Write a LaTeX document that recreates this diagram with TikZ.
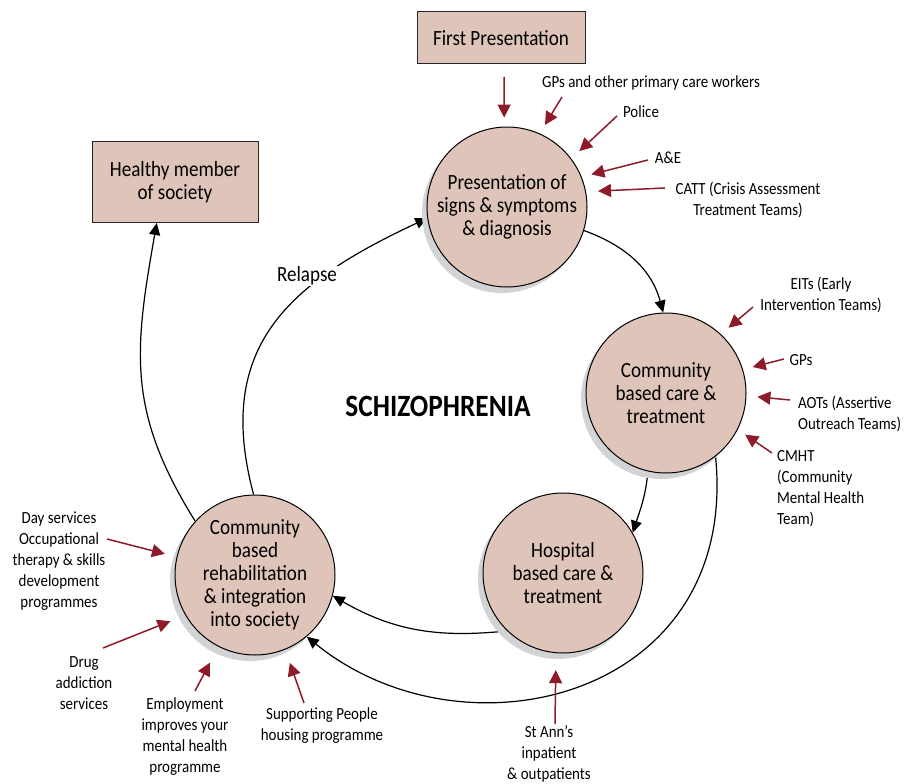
\documentclass[tikz,border=0pt]{standalone}
\usepackage{fontspec}
\setmainfont{Carlito}[FakeStretch=0.88]
\usetikzlibrary{arrows.meta,shadows,backgrounds}
\definecolor{piel}{HTML}{DEC4B9}
\definecolor{sombra}{HTML}{D1D3D4}
\definecolor{rojo}{HTML}{8E1B2A}
\newcommand{\grande}{\fontsize{21.7}{23}\selectfont}
\newcommand{\chica}{\fontsize{17}{21}\selectfont}
\begin{document}
\begin{tikzpicture}[x=1pt,y=-1pt,
  circ/.style={circle,draw,line width=1pt,fill=piel,minimum size=160pt,inner sep=0pt,
    align=center,font=\grande,
    drop shadow={shadow xshift=-5pt,shadow yshift=-6pt,fill=sombra,opacity=1}},
  caja/.style={rectangle,draw=black!85,line width=1pt,fill=piel,align=center,font=\grande},
  etiq/.style={align=center,font=\chica,inner sep=1pt},
  flecha/.style={line width=1.2pt,-{Triangle[length=12pt,width=11pt]}},
  roja/.style={draw=rojo,line width=1.5pt,-{Triangle[length=13pt,width=13pt]}}]
\useasboundingbox (0,0) rectangle (916,784);
%
% cajas y circulos
\node[caja,minimum width=168pt,minimum height=52pt] (primera) at (501,38) {First Presentation};
\node[caja,minimum width=166pt,minimum height=81pt] (sano) at (175,182) {Healthy member\\of society};
\node[circ] (c1) at (507,207) {Presentation of\\signs \& symptoms\\\& diagnosis};
\node[circ] (c2) at (666,393) {Community\\based care \&\\treatment};
\node[circ] (c3) at (563,573) {Hospital\\based care \&\\treatment};
\node[circ] (c4) at (255,575) {Community\\based\\rehabilitation\\\& integration\\into society};
\node[font=\bfseries\fontsize{31}{33}\selectfont] (esq) at (438,406) {SCHIZOPHRENIA};
%
% etiquetas
\node[etiq] (lgp) at (651,83) {GPs and other primary care workers};
\node[etiq] (lpol) at (641,112) {Police};
\node[etiq] (lae) at (668,158) {A\&E};
\node[etiq] (lcatt) at (748,200) {CATT (Crisis Assessment\\Treatment Teams)};
\node[etiq] (leit) at (821,295) {EITs (Early\\Intervention Teams)};
\node[etiq] (lgp2) at (801,360) {GPs};
\node[etiq,align=left,anchor=west] (laot) at (797,414) {AOTs (Assertive\\Outreach Teams)};
\node[etiq,align=left,anchor=west] (lcmht) at (776,489) {CMHT\\(Community\\Mental Health\\Team)};
\node[etiq] (lann) at (549,754) {St Ann’s\\inpatient\\\& outpatients};
\node[etiq] (lday) at (59,561) {Day services\\Occupational\\therapy \& skills\\development\\programmes};
\node[etiq] (ldrug) at (84,683) {Drug\\addiction\\services};
\node[etiq] (lemp) at (185,737) {Employment\\improves your\\mental health\\programme};
\node[etiq] (lsup) at (322,726) {Supporting People\\housing programme};
%
% ciclo
\begin{scope}[on background layer]
\draw[flecha] (c1.-17) to[out=-20,in=105] (c2.92);
\draw[flecha] (c2.-103) to[out=-95,in=72] (c3.30);
\draw[flecha] (c3.-134) to[out=186,in=-30] (c4.-15);
\draw[flecha] (c2.-52) .. controls +(24,242) and +(158,128) .. (c4.-50);
\draw[flecha] (c4.91) to[out=105,in=205,looseness=1.2] (c1.188);
\draw[flecha] (c4.138) to[out=122,in=-100,looseness=1.1] (sano.246);
\end{scope}
\node[fill=white,font=\grande,inner sep=1pt] (recaida) at (307,276) {Relapse};
%
% puntos de partida de las flechas rojas
\coordinate (t1) at (504,77);
\coordinate (t2) at (562,97);
\coordinate (t3) at (617,116);
\coordinate (t4) at (648,160);
\coordinate (t5) at (665,188);
\coordinate (t6) at (753,307);
\coordinate (t7) at (784,359);
\coordinate (t8) at (790,400);
\coordinate (t9) at (772,453);
\coordinate (t10) at (555,724);
\coordinate (t11) at (107,539);
\coordinate (t12) at (103,648);
\coordinate (t13) at (195,691);
\coordinate (t14) at (304,703);
%
\draw[roja,shorten >=9pt] (t1) -- (c1.92);
\draw[roja,shorten >=10pt] (t2) -- (c1.66);
\draw[roja,shorten >=11pt] (t3) -- (c1.37);
\draw[roja,shorten >=10pt] (t4) -- (c1.22);
\draw[roja,shorten >=12pt] (t5) -- (c1.11);
\draw[roja,shorten >=10pt] (t6) -- (c2.47);
\draw[roja,shorten >=10pt] (t7) -- (c2.17);
\draw[roja,shorten >=11pt] (t8) -- (c2.-2);
\draw[roja,shorten >=9pt] (t9) -- (c2.-27);
\draw[roja,shorten >=17pt] (t10) -- (c3.-95);
\draw[roja,shorten >=12pt] (t11) -- (c4.167);
\draw[roja,shorten >=16pt] (t12) -- (c4.210);
\draw[roja,shorten >=18pt] (t13) -- (c4.243);
\draw[roja,shorten >=14pt] (t14) -- (c4.-68);
%
\end{tikzpicture}
\end{document}
